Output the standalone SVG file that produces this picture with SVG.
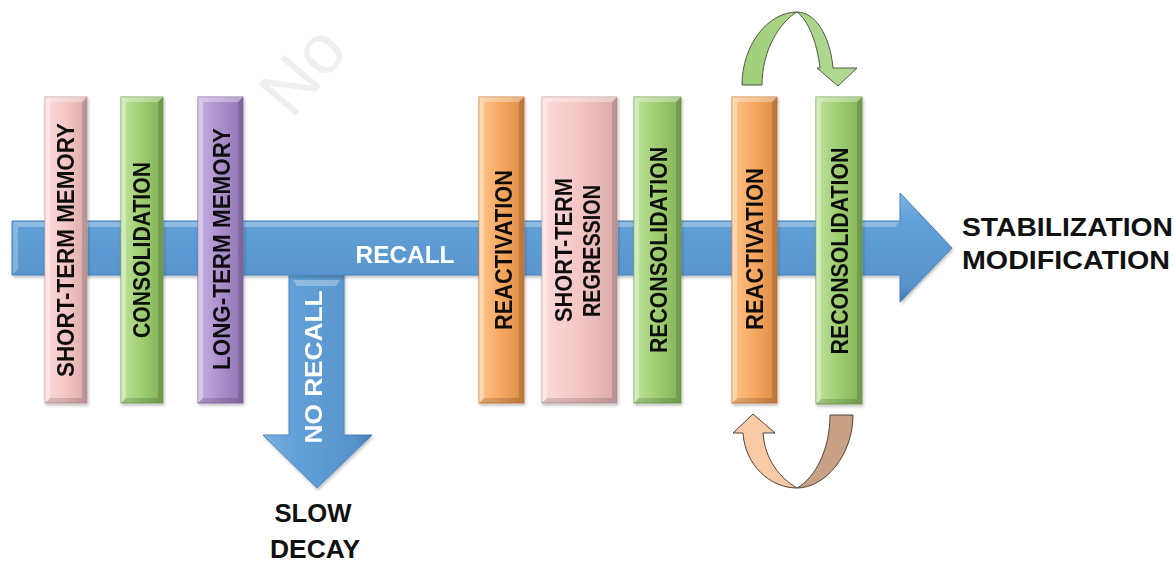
<svg xmlns="http://www.w3.org/2000/svg" width="1175" height="562" viewBox="0 0 1175 562">
<style>
.lbl{font-family:"Liberation Sans",Arial,sans-serif;font-weight:bold;font-size:23px;fill:#111;text-anchor:middle}
.wl{font-family:"Liberation Sans",Arial,sans-serif;font-weight:bold;fill:#fff;text-anchor:middle}
.out{font-family:"Liberation Sans",Arial,sans-serif;font-weight:bold;font-size:26px;fill:#111}
.bar{stroke-width:1}
.hl{fill:#fff;opacity:.35}
.dk{fill:#000;opacity:.14}
.pink{fill:url(#gPink);stroke:#c9a3a3}
.green{fill:url(#gGreen);stroke:#7ea85a}
.purple{fill:url(#gPurple);stroke:#8a70ad}
.orange{fill:url(#gOrange);stroke:#cf8441}
</style>
<defs>
<linearGradient id="gPink" x1="0" x2="1" y1="0" y2="0"><stop offset="0" stop-color="#fbdada"/><stop offset=".5" stop-color="#f4c6c5"/><stop offset="1" stop-color="#d9aaaa"/></linearGradient>
<linearGradient id="gGreen" x1="0" x2="1" y1="0" y2="0"><stop offset="0" stop-color="#bfe39c"/><stop offset=".5" stop-color="#9dcd70"/><stop offset="1" stop-color="#83b257"/></linearGradient>
<linearGradient id="gPurple" x1="0" x2="1" y1="0" y2="0"><stop offset="0" stop-color="#c6b0e0"/><stop offset=".5" stop-color="#ab8fcd"/><stop offset="1" stop-color="#8f74b2"/></linearGradient>
<linearGradient id="gOrange" x1="0" x2="1" y1="0" y2="0"><stop offset="0" stop-color="#ffc48a"/><stop offset=".5" stop-color="#f6a75f"/><stop offset="1" stop-color="#d98a45"/></linearGradient>
<linearGradient id="gBlueH" x1="0" x2="0" y1="0" y2="1"><stop offset="0" stop-color="#7db2e3"/><stop offset=".25" stop-color="#61a0d8"/><stop offset=".85" stop-color="#5893cc"/><stop offset="1" stop-color="#3f77ad"/></linearGradient>
<linearGradient id="gBlueV" x1="0" x2="1" y1="0" y2="0"><stop offset="0" stop-color="#7db2e3"/><stop offset=".3" stop-color="#61a0d8"/><stop offset=".85" stop-color="#5893cc"/><stop offset="1" stop-color="#3f77ad"/></linearGradient>
<linearGradient id="gTop" x1="0" x2="1" y1="0" y2="0"><stop offset="0" stop-color="#a2cf7a"/><stop offset="1" stop-color="#b3d995"/></linearGradient>
<filter id="sh" x="-20%" y="-5%" width="140%" height="110%"><feDropShadow dx="1" dy="2" stdDeviation="1.5" flood-color="#000" flood-opacity=".25"/></filter>
</defs>

<text x="292" y="120" transform="rotate(-50 292 120)" font-family="Liberation Sans, Arial, sans-serif" font-size="70" fill="#efefef">No</text>

<g id="connectors">
  <g id="no-recall-arrow" filter="url(#sh)">
    <path d="M289,268 L344,268 L344,435 L372,435 L317,488 L263,435 L289,435 Z" fill="url(#gBlueV)" stroke="#4a84bd" stroke-width="1"/>
    <path d="M293,280 L340,280 L336,286 L297,286 Z" fill="#fff" opacity=".3"/>
    <text class="wl" font-size="23" transform="translate(322,367) rotate(-90)" textLength="153" lengthAdjust="spacingAndGlyphs">NO RECALL</text>
  </g>
  <g id="main-arrow" filter="url(#sh)">
    <path d="M12,221 L900,221 L900,193 L952,248 L900,302 L900,275 L12,275 Z" fill="url(#gBlueH)" stroke="#4a84bd" stroke-width="1"/>
    <path d="M13,222 L899,222 L895,227 L18,227 Z" fill="#fff" opacity=".3"/>
    <path d="M13,222 L18,227 L18,269 L13,274 Z" fill="#fff" opacity=".25"/>
    <text class="wl" x="405" y="263" font-size="24" textLength="99" lengthAdjust="spacingAndGlyphs">RECALL</text>
  </g>
  <g id="loop-top">
    <path d="M742,85 C742,45 768,12 797,12 C815,12 830,35 833,68 L857,68 L838,86 L817,68 L820,68 C817,42 808,20 797,12 C780,22 762,50 762,85 Z" fill="url(#gTop)" stroke="#4d5a44" stroke-width="1"/>
  </g>
  <g id="loop-bottom">
    <path d="M853,415 C853,455 825,488 797,488 C815,478 830,450 830,415 Z" fill="#c9a285" stroke="#4f4239" stroke-width="1"/>
    <path d="M797,488 C770,488 745,465 743,433 L733,433 L753,414 L775,433 L763,433 C765,460 780,478 797,488 Z" fill="#f8cba6" stroke="#4f4239" stroke-width="1"/>
  </g>
</g>

<g id="bar-stm" filter="url(#sh)">
  <rect class="bar pink" x="45" y="97" width="42" height="306"/>
  <path class="hl" d="M45,97 L87,97 L82,102 L50,102 Z M45,97 L50,102 L50,398 L45,403 Z"/>
  <path class="dk" d="M87,97 L87,403 L82,398 L82,102 Z M45,403 L87,403 L82,398 L50,398 Z"/>
  <text class="lbl" transform="translate(74,250) rotate(-90)" textLength="254" lengthAdjust="spacingAndGlyphs">SHORT-TERM MEMORY</text>
</g>
<g id="bar-consolidation" filter="url(#sh)">
  <rect class="bar green" x="121" y="97" width="42" height="306"/>
  <path class="hl" d="M121,97 L163,97 L158,102 L126,102 Z M121,97 L126,102 L126,398 L121,403 Z"/>
  <path class="dk" d="M163,97 L163,403 L158,398 L158,102 Z M121,403 L163,403 L158,398 L126,398 Z"/>
  <text class="lbl" transform="translate(150,250) rotate(-90)" textLength="176" lengthAdjust="spacingAndGlyphs">CONSOLIDATION</text>
</g>
<g id="bar-ltm" filter="url(#sh)">
  <rect class="bar purple" x="198" y="97" width="45" height="306"/>
  <path class="hl" d="M198,97 L243,97 L238,102 L203,102 Z M198,97 L203,102 L203,398 L198,403 Z"/>
  <path class="dk" d="M243,97 L243,403 L238,398 L238,102 Z M198,403 L243,403 L238,398 L203,398 Z"/>
  <text class="lbl" transform="translate(230,249) rotate(-90)" textLength="242" lengthAdjust="spacingAndGlyphs">LONG-TERM MEMORY</text>
</g>
<g id="bar-reactivation-1" filter="url(#sh)">
  <rect class="bar orange" x="479" y="97" width="45" height="306"/>
  <path class="hl" d="M479,97 L524,97 L519,102 L484,102 Z M479,97 L484,102 L484,398 L479,403 Z"/>
  <path class="dk" d="M524,97 L524,403 L519,398 L519,102 Z M479,403 L524,403 L519,398 L484,398 Z"/>
  <text class="lbl" transform="translate(512,250) rotate(-90)" textLength="160" lengthAdjust="spacingAndGlyphs">REACTIVATION</text>
</g>
<g id="bar-str" filter="url(#sh)">
  <rect class="bar pink" x="542" y="97" width="75" height="306"/>
  <path class="hl" d="M542,97 L617,97 L612,102 L547,102 Z M542,97 L547,102 L547,398 L542,403 Z"/>
  <path class="dk" d="M617,97 L617,403 L612,398 L612,102 Z M542,403 L617,403 L612,398 L547,398 Z"/>
  <text class="lbl" transform="translate(572,250) rotate(-90)" textLength="144" lengthAdjust="spacingAndGlyphs">SHORT-TERM</text>
  <text class="lbl" transform="translate(600,251) rotate(-90)" textLength="132" lengthAdjust="spacingAndGlyphs">REGRESSION</text>
</g>
<g id="bar-reconsolidation-1" filter="url(#sh)">
  <rect class="bar green" x="634" y="97" width="47" height="306"/>
  <path class="hl" d="M634,97 L681,97 L676,102 L639,102 Z M634,97 L639,102 L639,398 L634,403 Z"/>
  <path class="dk" d="M681,97 L681,403 L676,398 L676,102 Z M634,403 L681,403 L676,398 L639,398 Z"/>
  <text class="lbl" transform="translate(667,250) rotate(-90)" textLength="206" lengthAdjust="spacingAndGlyphs">RECONSOLIDATION</text>
</g>
<g id="bar-reactivation-2" filter="url(#sh)">
  <rect class="bar orange" x="732" y="97" width="45" height="306"/>
  <path class="hl" d="M732,97 L777,97 L772,102 L737,102 Z M732,97 L737,102 L737,398 L732,403 Z"/>
  <path class="dk" d="M777,97 L777,403 L772,398 L772,102 Z M732,403 L777,403 L772,398 L737,398 Z"/>
  <text class="lbl" transform="translate(763,249) rotate(-90)" textLength="162" lengthAdjust="spacingAndGlyphs">REACTIVATION</text>
</g>
<g id="bar-reconsolidation-2" filter="url(#sh)">
  <rect class="bar green" x="816" y="97" width="46" height="307"/>
  <path class="hl" d="M816,97 L862,97 L857,102 L821,102 Z M816,97 L821,102 L821,399 L816,404 Z"/>
  <path class="dk" d="M862,97 L862,404 L857,399 L857,102 Z M816,404 L862,404 L857,399 L821,399 Z"/>
  <text class="lbl" transform="translate(848,251) rotate(-90)" textLength="207" lengthAdjust="spacingAndGlyphs">RECONSOLIDATION</text>
</g>

<g id="outcome-right">
  <text class="out" x="962" y="236" textLength="211" lengthAdjust="spacingAndGlyphs">STABILIZATION</text>
  <text class="out" x="962" y="269" textLength="208" lengthAdjust="spacingAndGlyphs">MODIFICATION</text>
</g>
<g id="outcome-bottom">
  <text class="out" x="313" y="522" text-anchor="middle" textLength="77" lengthAdjust="spacingAndGlyphs">SLOW</text>
  <text class="out" x="315" y="558" text-anchor="middle" textLength="90" lengthAdjust="spacingAndGlyphs">DECAY</text>
</g>
</svg>
